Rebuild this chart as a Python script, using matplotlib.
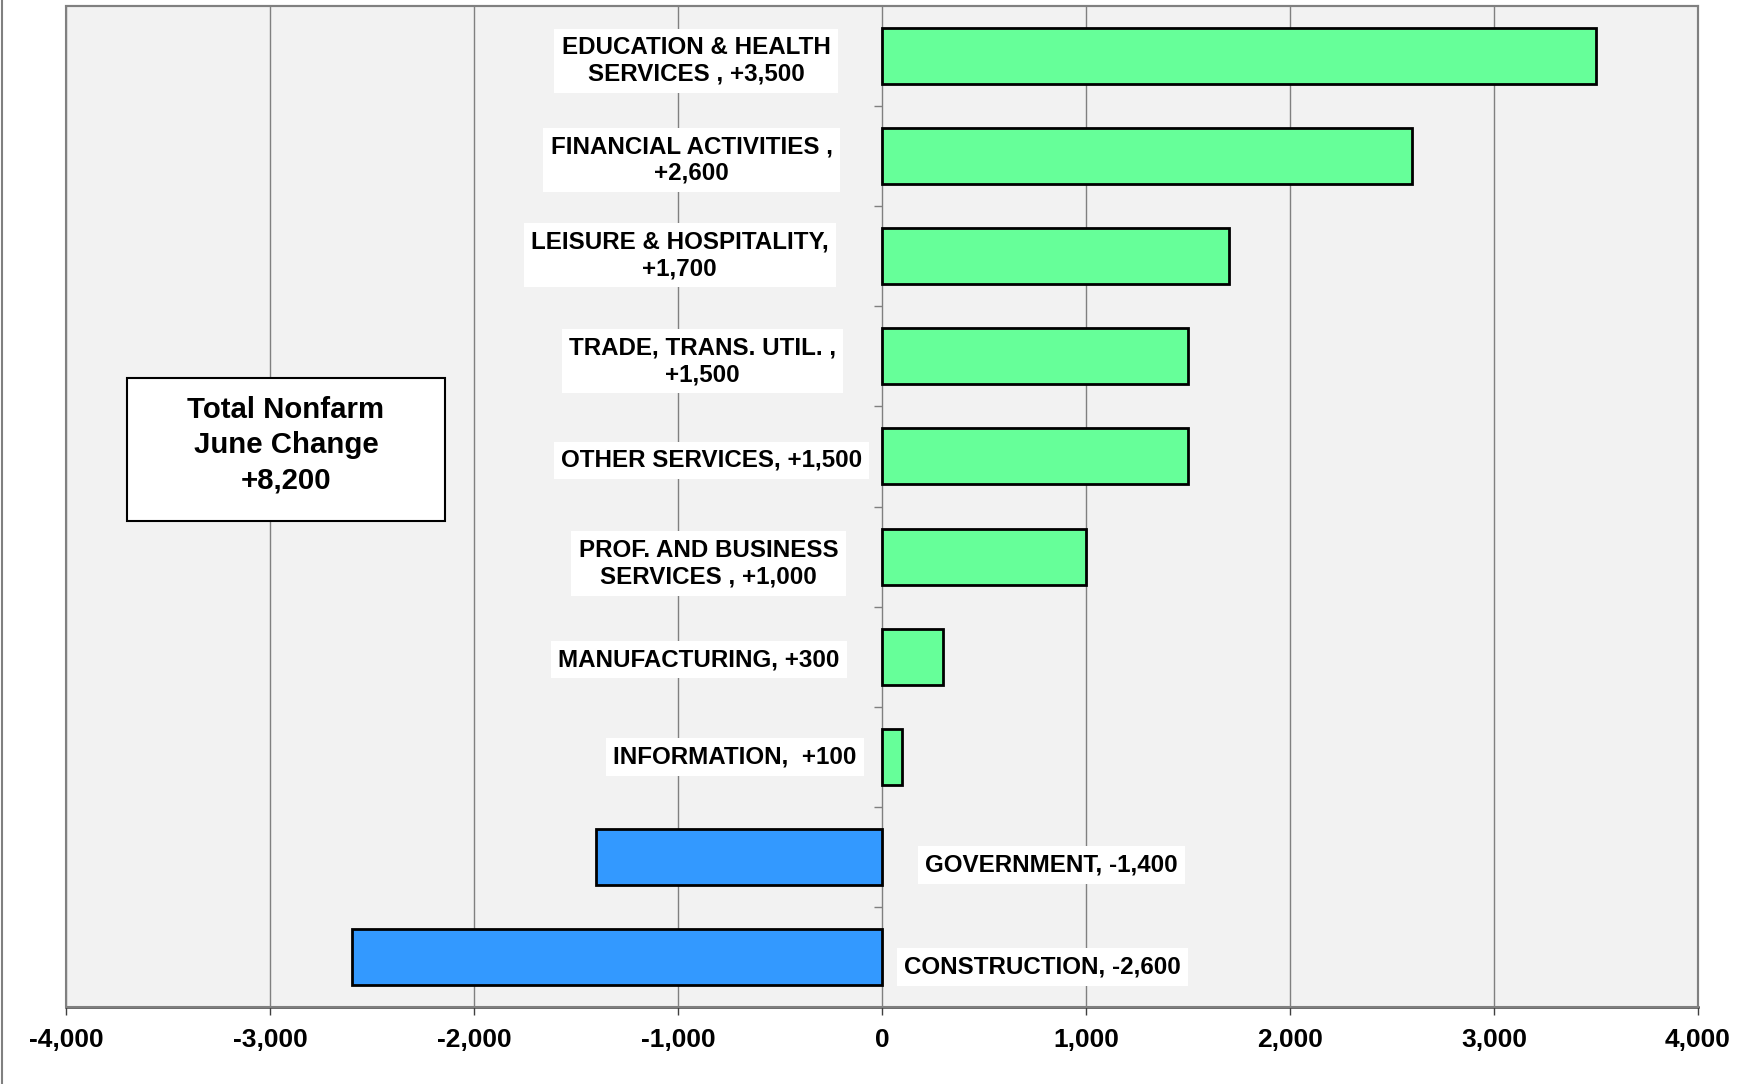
import numpy as np
import matplotlib
matplotlib.use("Agg")
import matplotlib.pyplot as plt
from matplotlib.patches import Rectangle
from matplotlib.lines import Line2D
from matplotlib.ticker import FuncFormatter

plt.rcParams['font.family'] = ['Liberation Sans', 'DejaVu Sans']

# ---- data ----
categories = [
    "EDUCATION & HEALTH\nSERVICES , ",
    "FINANCIAL ACTIVITIES ,\n",
    "LEISURE & HOSPITALITY,\n",
    "TRADE, TRANS. UTIL. ,\n",
    "OTHER SERVICES, ",
    "PROF. AND BUSINESS\nSERVICES , ",
    "MANUFACTURING, ",
    "INFORMATION,  ",
    "GOVERNMENT, ",
    "CONSTRUCTION, ",
]
values = [3500, 2600, 1700, 1500, 1500, 1000, 300, 100, -1400, -2600]
total_text = "Total Nonfarm\nJune Change\n+8,200"
xticks = [-4000, -3000, -2000, -1000, 0, 1000, 2000, 3000, 4000]

# ---- layout (label anchors in data units / pixel offsets) ----
label_x = [-252, -242, -262, -226, -98, -214, -208, -125, 212, 109]
label_dy = [5, 4, -1, 5, 4, 7, 3, 0, 8, 10]

GREEN = '#66FF99'
BLUE = '#3399FF'

W, H = 1758, 1084
fig = plt.figure(figsize=(W / 100, H / 100), dpi=100)
fig.patch.set_facecolor('white')
ax_l, ax_r, ax_t, ax_b = 66, 1698, 6, 1007
ax = fig.add_axes([ax_l / W, 1 - ax_b / H, (ax_r - ax_l) / W, (ax_b - ax_t) / H])
ax.set_facecolor('#F2F2F2')

y = np.arange(len(values))
colors = [GREEN if v >= 0 else BLUE for v in values]
ax.barh(y, values, height=0.56, color=colors, edgecolor='black', linewidth=2, zorder=3)

ax.set_xlim(-4000, 4000)
ax.set_ylim(len(values) - 0.5, -0.5)

ax.set_xticks(xticks)
ax.xaxis.set_major_formatter(FuncFormatter(lambda v, p: f"{int(v):,}"))
ax.tick_params(axis='x', direction='out', length=5.8, width=1, color='#404040',
               pad=9, labelsize=19)
for t in ax.get_xticklabels():
    t.set_fontweight('bold')

ax.grid(axis='x', color='#808080', linewidth=1)
ax.grid(axis='y', visible=False)
ax.set_axisbelow(True)

# y-axis ticks at category boundaries on the zero line
ax.spines['left'].set_position(('data', 0))
ax.spines['left'].set_visible(False)
ax.set_yticks(np.arange(0.5, len(values) - 1, 1))
ax.set_yticklabels([])
ax.tick_params(axis='y', direction='out', length=5.8, width=1, color='#808080')

for s in ['top', 'right']:
    ax.spines[s].set_color('#808080')
    ax.spines[s].set_linewidth(1.5)
ax.spines['bottom'].set_color('#404040')
ax.spines['bottom'].set_linewidth(1.8)
ax.add_patch(Rectangle((0, 0), 1, 1, transform=ax.transAxes, fill=False,
                       edgecolor='#808080', linewidth=1.5, clip_on=False, zorder=5))

# data labels
for i, (cat, v) in enumerate(zip(categories, values)):
    label = cat + f"{v:+,}"
    ha = 'right' if v >= 0 else 'left'
    ax.annotate(label, xy=(label_x[i], y[i]), xytext=(0, -label_dy[i]),
                textcoords='offset pixels', ha=ha, va='center',
                multialignment='center', fontsize=17.4, fontweight='bold',
                bbox=dict(boxstyle='square,pad=0.3', facecolor='white', edgecolor='none'),
                zorder=6)

# total box
bx0, bx1, by0, by1 = 127, 445, 378, 521
ax.add_patch(Rectangle(((bx0 - ax_l) / (ax_r - ax_l), (ax_b - by1) / (ax_b - ax_t)),
                       (bx1 - bx0) / (ax_r - ax_l), (by1 - by0) / (ax_b - ax_t),
                       transform=ax.transAxes, facecolor='white', edgecolor='black',
                       linewidth=1.5, zorder=6))
ax.text(((bx0 + bx1) / 2 - ax_l) / (ax_r - ax_l), (ax_b - 445) / (ax_b - ax_t),
        total_text, transform=ax.transAxes, ha='center', va='center',
        multialignment='center', fontsize=21.2, fontweight='bold',
        linespacing=1.34, zorder=7)

# left frame line of chart area
fig.add_artist(Line2D([2 / W, 2 / W], [0, 1], transform=fig.transFigure,
                      color='#808080', linewidth=1.5))

fig.savefig('out.png', dpi=100)
